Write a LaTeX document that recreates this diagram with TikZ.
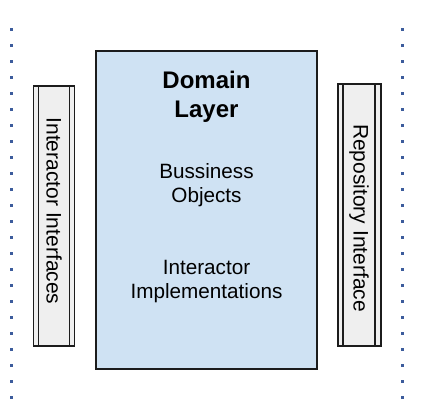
\documentclass[tikz,border=0pt]{standalone}
\usepackage{fontspec}
\setmainfont{Liberation Sans}
\begin{document}
\begin{tikzpicture}[x=1pt, y=-1pt]
    \definecolor{borderColour}{HTML}{1C1C1C}
    \definecolor{fillColourDomain}{HTML}{CFE2F3}
    \definecolor{fillColourSide}{HTML}{EFEFEF}
    \definecolor{dotColour}{HTML}{3C5C9C}

    \tikzset{
        layerbox/.style={draw=borderColour, fill=fillColourDomain, line width=1.6pt},
        sidebox/.style={draw=borderColour, fill=fillColourSide, line width=1.6pt},
        sideline/.style={draw=borderColour, line width=1.4pt},
        boundary/.style={fill=dotColour},
        bodytext/.style={font=\fontsize{20.7}{24}\selectfont, align=center, anchor=base},
        titletext/.style={font=\fontsize{24}{29}\selectfont\bfseries, align=center, anchor=base},
        sidetext/.style={font=\fontsize{21}{24}\selectfont, rotate=-90}
    }

    % Fix margins
    \useasboundingbox (0,0) rectangle (444,413);

    % Dotted boundaries
    \foreach \i in {0,...,23} {
        \fill[boundary] (9.5,27.5+16*\i) rectangle ++(3,3);
        \fill[boundary] (400.5,27.5+16*\i) rectangle ++(3,3);
    }

    % Domain layer (base anchor sits on the last line)
    \draw[layerbox] (96,51) rectangle (317,369);
    \node[titletext] (domain) at (206.5,117) {Domain\\Layer};
    \node[bodytext] (objects) at (206.5,202) {Bussiness\\Objects};
    \node[bodytext] (implementations) at (206.5,298) {Interactor\\Implementations};

    % Interactor interfaces
    \draw[sidebox] (33.5,86) rectangle (74.5,346);
    \draw[sideline] (38.5,86) -- (38.5,346);
    \draw[sideline] (69.5,86) -- (69.5,346);
    \node[sidetext] (interfaces) at (54,211) {Interactor Interfaces};

    % Repository interface
    \draw[sidebox] (338,84) rectangle (381,346);
    \draw[sideline] (343,84) -- (343,346);
    \draw[sideline] (375,84) -- (375,346);
    \node[sidetext] (repository) at (359,218) {Repository Interface};

\end{tikzpicture}
\end{document}
